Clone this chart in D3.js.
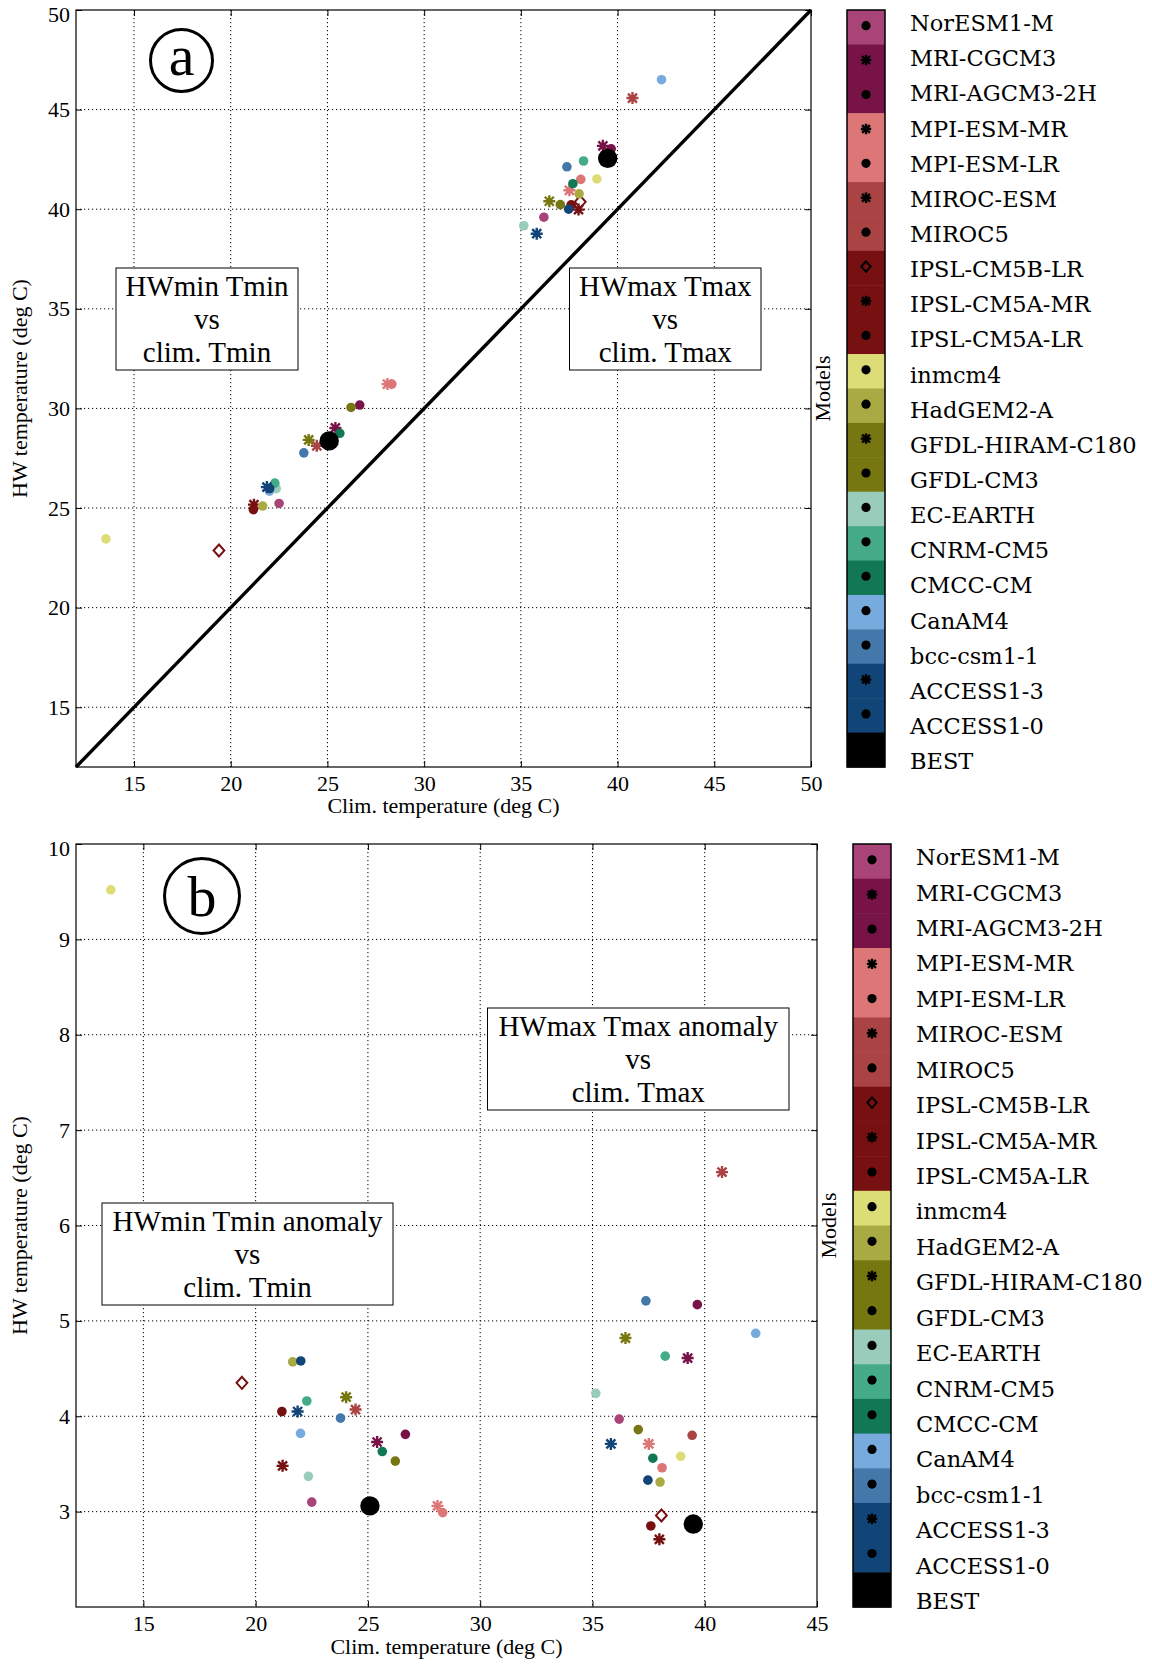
<!DOCTYPE html>
<html><head><meta charset="utf-8">
<script src="https://cdn.jsdelivr.net/npm/d3@7"></script>
<style>body{margin:0;background:#fff} svg{display:block}</style>
</head><body>
<svg id="chart" width="1152" height="1664"></svg>
<script>
// ---------------- DATA ----------------
const models = ["NorESM1-M","MRI-CGCM3","MRI-AGCM3-2H","MPI-ESM-MR","MPI-ESM-LR","MIROC-ESM","MIROC5",
  "IPSL-CM5B-LR","IPSL-CM5A-MR","IPSL-CM5A-LR","inmcm4","HadGEM2-A","GFDL-HIRAM-C180","GFDL-CM3",
  "EC-EARTH","CNRM-CM5","CMCC-CM","CanAM4","bcc-csm1-1","ACCESS1-3","ACCESS1-0"];
const modelColors = ["#a84478","#771347","#771347","#dd7777","#dd7777","#aa4444","#aa4444",
  "#771111","#771111","#771111","#dddd77","#aaaa44","#777711","#777711",
  "#99ccbb","#44aa88","#117755","#77aadd","#4477aa","#114477","#114477"];
const modelMarkers = ["circle","asterisk","circle","asterisk","circle","asterisk","circle",
  "diamond","asterisk","circle","circle","circle","asterisk","circle",
  "circle","circle","circle","circle","circle","asterisk","circle"];
// Tmin: climatology (x), HW temperature (panel a), HW anomaly (panel b)
const tminClim = [22.50,25.41,26.67,28.10,28.33,24.45,null,19.39,21.20,21.17,13.55,21.65,24.03,26.22,22.35,22.28,25.64,22.00,23.78,21.87,22.01];
const tminHW   = [25.23,29.02,30.17,31.22,31.22,28.12,null,22.87,25.17,24.92,23.45,25.10,28.42,30.05,25.97,26.25,28.75,25.85,27.77,26.05,25.98];
const tminAnom = [3.10,3.73,3.81,3.06,2.99,4.07,null,4.35,3.48,4.05,9.52,4.57,4.20,3.53,3.37,4.16,3.63,3.82,3.98,4.05,4.58];
// Tmax
const tmaxClim = [36.19,39.24,39.67,37.51,38.10,40.77,39.44,38.07,37.98,37.60,38.93,38.01,36.47,37.04,35.15,38.24,37.69,42.27,37.38,35.82,37.47];
const tmaxHW   = [39.60,43.18,43.03,40.95,41.50,45.58,42.50,40.37,39.98,40.22,41.52,40.77,40.40,40.23,39.17,42.42,41.28,46.50,42.13,38.77,40.00];
const tmaxAnom = [3.97,4.61,5.17,3.71,3.46,6.56,3.80,2.96,2.71,2.85,3.58,3.31,4.82,3.86,4.24,4.63,3.56,4.87,5.21,3.71,3.33];
// BEST observations [Tmin, Tmax]
const bestClim = [25.09,39.49];
const bestHW   = [28.37,42.55];
const bestAnom = [3.06,2.87];
// ticks
const xTicksA = [15,20,25,30,35,40,45,50];
const yTicksA = [15,20,25,30,35,40,45,50];
const xTicksB = [15,20,25,30,35,40,45];
const yTicksB = [3,4,5,6,7,8,9,10];
const legendLabels = models.concat(["BEST"]);

// ---------------- DRAW ----------------
const svg = d3.select("#chart");
const SERIF = "'Liberation Serif','Times New Roman',serif";
const LEGFONT = "'DejaVu Serif',serif";

function marker(g, type, cx, cy, color, s, sw) {
  if (type === "circle" || type === "bigcircle") {
    g.append("circle").attr("cx", cx).attr("cy", cy).attr("r", s).attr("fill", color);
  } else if (type === "asterisk") {
    const a = s, b = s * 0.75;
    g.append("path").attr("d",
      `M${cx-a},${cy}L${cx+a},${cy}M${cx},${cy-a}L${cx},${cy+a}M${cx-b},${cy-b}L${cx+b},${cy+b}M${cx-b},${cy+b}L${cx+b},${cy-b}`)
      .attr("stroke", color).attr("stroke-width", sw || 2.4).attr("fill", "none");
  } else if (type === "diamond") {
    const w = s * 0.9, h = s;
    g.append("path").attr("d", `M${cx},${cy-h}L${cx+w},${cy}L${cx},${cy+h}L${cx-w},${cy}Z`)
      .attr("stroke", color).attr("stroke-width", 2).attr("fill", "none");
  }
}

function drawPanel(p) {
  const g = svg.append("g");
  const x = d3.scaleLinear().domain(p.xDomain).range([p.left, p.right]);
  const y = d3.scaleLinear().domain(p.yDomain).range([p.bottom, p.top]);

  // grid
  g.selectAll(null).data(p.xTicks.filter(v => v > p.xDomain[0] && v < p.xDomain[1])).join("line")
    .attr("x1", d => x(d)).attr("x2", d => x(d)).attr("y1", p.top).attr("y2", p.bottom)
    .attr("stroke", "#000").attr("stroke-width", 1).attr("stroke-dasharray", "1.2,2.8");
  g.selectAll(null).data(p.yTicks.filter(v => v > p.yDomain[0] && v < p.yDomain[1])).join("line")
    .attr("y1", d => y(d)).attr("y2", d => y(d)).attr("x1", p.left).attr("x2", p.right)
    .attr("stroke", "#000").attr("stroke-width", 1).attr("stroke-dasharray", "1.2,2.8");

  // axes
  const styleAxis = a => { a.select(".domain").remove(); a.attr("font-family", SERIF).attr("font-size", 22);
    a.selectAll("line").attr("stroke", "#000"); a.selectAll("text").attr("fill", "#000"); };
  g.append("g").attr("transform", `translate(0,${p.bottom})`)
    .call(d3.axisBottom(x).tickValues(p.xTicks).tickSizeInner(-6).tickSizeOuter(0).tickPadding(8).tickFormat(d3.format("d")))
    .call(styleAxis);
  g.append("g").attr("transform", `translate(0,${p.top})`)
    .call(d3.axisTop(x).tickValues(p.xTicks).tickSizeInner(-6).tickSizeOuter(0).tickFormat(""))
    .call(styleAxis);
  g.append("g").attr("transform", `translate(${p.left},0)`)
    .call(d3.axisLeft(y).tickValues(p.yTicks).tickSizeInner(-6).tickSizeOuter(0).tickPadding(6).tickFormat(d3.format("d")))
    .call(styleAxis)
    .call(a => a.selectAll(".tick").filter(d => d === p.yDomain[1]).select("text").attr("dy", "0.5em"));
  g.append("g").attr("transform", `translate(${p.right},0)`)
    .call(d3.axisRight(y).tickValues(p.yTicks).tickSizeInner(-6).tickSizeOuter(0).tickFormat(""))
    .call(styleAxis);

  // frame
  g.append("rect").attr("x", p.left).attr("y", p.top).attr("width", p.right - p.left).attr("height", p.bottom - p.top)
    .attr("fill", "none").attr("stroke", "#000").attr("stroke-width", 1.2);

  // axis labels
  g.append("text").attr("x", (p.left + p.right) / 2).attr("y", p.xLabelY).attr("text-anchor", "middle")
    .attr("font-family", SERIF).attr("font-size", 22).text("Clim. temperature (deg C)");
  g.append("text").attr("transform", `translate(${p.yLabelX},${(p.top + p.bottom) / 2}) rotate(-90)`)
    .attr("text-anchor", "middle").attr("font-family", SERIF).attr("font-size", 22).text("HW temperature (deg C)");

  // diagonal
  if (p.diagonal) {
    g.append("line").attr("x1", x(p.xDomain[0])).attr("y1", y(p.yDomain[0]))
      .attr("x2", x(p.xDomain[1])).attr("y2", y(p.yDomain[1]))
      .attr("stroke", "#000").attr("stroke-width", 3.4);
  }

  // text boxes
  p.boxes.forEach(b => {
    g.append("rect").attr("x", b.x).attr("y", b.y).attr("width", b.w).attr("height", b.h)
      .attr("fill", "#fff").attr("stroke", "#000").attr("stroke-width", 1);
    b.lines.forEach((t, i) => {
      g.append("text").attr("x", b.x + b.w / 2).attr("y", b.y + 27.5 + i * 33.2).attr("text-anchor", "middle")
        .attr("font-family", SERIF).attr("font-size", 29).text(t);
    });
  });

  // panel letter
  g.append("circle").attr("cx", p.letter.cx).attr("cy", p.letter.cy).attr("r", p.letter.r)
    .attr("fill", "none").attr("stroke", "#000").attr("stroke-width", 3);
  g.append("text").attr("x", p.letter.cx).attr("y", p.letter.base).attr("text-anchor", "middle")
    .attr("font-family", SERIF).attr("font-size", 58).text(p.letter.t);

  // points
  const pg = g.append("g");
  p.series.forEach(s => {
    models.forEach((m, i) => {
      if (s.xs[i] == null || s.ys[i] == null) return;
      const type = modelMarkers[i];
      marker(pg, type, x(s.xs[i]), y(s.ys[i]), modelColors[i], type === "circle" ? 4.8 : 6);
    });
  });
  p.series.forEach(s => {
    marker(pg, "bigcircle", x(s.bx), y(s.by), "#000", 9.7);
  });

  // colorbar legend
  const cb = d3.scaleBand().domain(legendLabels).range([p.top, p.bottom]).padding(0);
  const lg = g.append("g");
  legendLabels.forEach((m, i) => {
    const col = i < models.length ? modelColors[i] : "#000";
    lg.append("rect").attr("x", p.cbLeft).attr("y", cb(m)).attr("width", p.cbW).attr("height", cb.bandwidth() + 0.5)
      .attr("fill", col);
    if (i < models.length) {
      const t = modelMarkers[i];
      marker(lg, t, p.cbLeft + p.cbW / 2, cb(m) + cb.bandwidth() / 2 - 1.5, "#000", t === "circle" ? 4.6 : 5.2, 2.4);
    }
  });
  lg.append("rect").attr("x", p.cbLeft).attr("y", p.top).attr("width", p.cbW).attr("height", p.bottom - p.top)
    .attr("fill", "none").attr("stroke", "#000").attr("stroke-width", 1.5);
  const ly = d3.scalePoint().domain(legendLabels).range(p.labelRange);
  legendLabels.forEach(m => {
    lg.append("text").attr("x", p.cbLeft + p.cbW + 25).attr("y", ly(m)).attr("dy", "0.36em")
      .attr("font-family", LEGFONT).attr("font-size", 22.5).attr("fill", "#000").text(m);
  });
  g.append("text").attr("transform", `translate(${p.modelsX},${(p.top + p.bottom) / 2}) rotate(-90)`)
    .attr("text-anchor", "middle").attr("font-family", SERIF).attr("font-size", 22).text("Models");
}

drawPanel({
  left: 76, right: 811, top: 10, bottom: 767,
  xDomain: [12, 50], yDomain: [12, 50], xTicks: xTicksA, yTicks: yTicksA,
  xLabelY: 813, yLabelX: 27, diagonal: true,
  boxes: [
    {x: 116, y: 268, w: 182, h: 102, lines: ["HWmin Tmin", "vs", "clim. Tmin"]},
    {x: 569.5, y: 268, w: 191.5, h: 102, lines: ["HWmax Tmax", "vs", "clim. Tmax"]}
  ],
  letter: {cx: 181.5, cy: 60.5, r: 31, base: 74.5, t: "a"},
  series: [
    {xs: tminClim, ys: tminHW, bx: bestClim[0], by: bestHW[0]},
    {xs: tmaxClim, ys: tmaxHW, bx: bestClim[1], by: bestHW[1]}
  ],
  cbLeft: 847, cbW: 38, labelRange: [23, 761], modelsX: 830
});

drawPanel({
  left: 76, right: 817, top: 844, bottom: 1607,
  xDomain: [12, 45], yDomain: [2, 10], xTicks: xTicksB, yTicks: yTicksB,
  xLabelY: 1654, yLabelX: 27, diagonal: false,
  boxes: [
    {x: 102, y: 1203, w: 291, h: 102, lines: ["HWmin Tmin anomaly", "vs", "clim. Tmin"]},
    {x: 487.5, y: 1008, w: 301.5, h: 102, lines: ["HWmax Tmax anomaly", "vs", "clim. Tmax"]}
  ],
  letter: {cx: 202, cy: 896, r: 37.5, base: 916, t: "b"},
  series: [
    {xs: tminClim, ys: tminAnom, bx: bestClim[0], by: bestAnom[0]},
    {xs: tmaxClim, ys: tmaxAnom, bx: bestClim[1], by: bestAnom[1]}
  ],
  cbLeft: 853, cbW: 38, labelRange: [857, 1601], modelsX: 836
});
</script>
</body></html>
